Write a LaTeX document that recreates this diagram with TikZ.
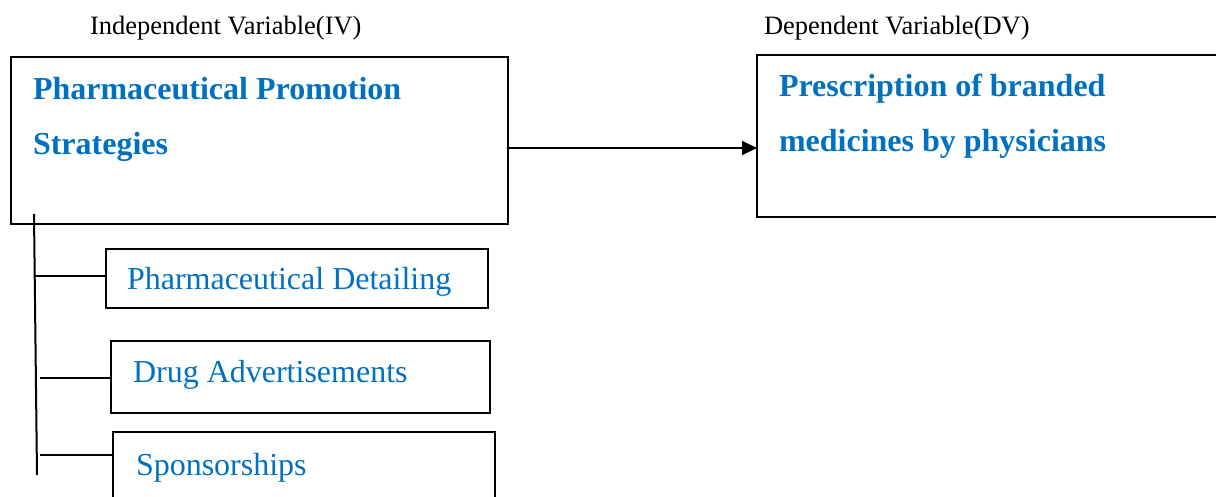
\documentclass[tikz,border=0pt]{standalone}
\usepackage{fontspec}
\setmainfont{Liberation Serif}
\usetikzlibrary{positioning, arrows.meta}
\definecolor{wordblue}{RGB}{0,112,192}

\begin{document}
\begin{tikzpicture}[x=0.5pt,y=-0.5pt,line width=1pt,
                box/.style={draw,anchor=north west,outer sep=0pt,inner sep=0pt},
                heading/.style={anchor=base west,inner sep=0pt,text=wordblue,
                  font=\fontsize{16pt}{19pt}\selectfont\bfseries},
                item/.style={anchor=base west,inner sep=0pt,text=wordblue,
                  font=\fontsize{16pt}{19pt}\selectfont},
                caption/.style={anchor=base west,inner sep=0pt,
                  font=\fontsize{13.25pt}{16pt}\selectfont}]

  \useasboundingbox (0,0) rectangle (1216,497);

  % variable captions
  \node[caption] (ivcap) at (89,35) {Independent Variable(IV)};
  \node[caption] (dvcap) at (763,35) {Dependent Variable(DV)};

  % main boxes
  \node[box,minimum width=248.5pt,minimum height=83.5pt] (iv) at (11,57) {};
  \node[box,minimum width=236.5pt,minimum height=81pt] (dv) at (757,55) {};
  \node[heading] (iv1) at (32,100) {Pharmaceutical Promotion};
  \node[heading] (iv2) at (32,155) {Strategies};
  \node[heading] (dv1) at (778,97) {Prescription of branded};
  \node[heading] (dv2) at (778,152) {medicines by physicians};

  % sub boxes
  \node[box,minimum width=191pt,minimum height=29.5pt] (det) at (106,249) {};
  \node[box,minimum width=189.5pt,minimum height=36pt] (ads) at (111,341) {};
  \node[box,minimum width=191pt,minimum height=39pt] (spo) at (113,432) {};
  \node[item] (dettxt) at (126,290) {Pharmaceutical Detailing};
  \node[item] (adstxt) at (132,383) {Drug Advertisements};
  \node[item] (spotxt) at (135,475) {Sponsorships};

  % connectors
  \coordinate (arrowy) at (0,148);
  \draw[-{Triangle[length=7.5pt,width=7pt]}] (iv.east |- arrowy) -- (dv.west |- arrowy);

  \coordinate (top) at (34,214);
  \coordinate (bot) at (37,475);
  \coordinate (b1) at (35,276);
  \coordinate (b2) at (40,378);
  \coordinate (b3) at (40,455);
  \draw (top) -- (bot);
  \draw (b1) -- (b1 -| det.west);
  \draw (b2) -- (b2 -| ads.west);
  \draw (b3) -- (b3 -| spo.west);
\end{tikzpicture}
\end{document}
